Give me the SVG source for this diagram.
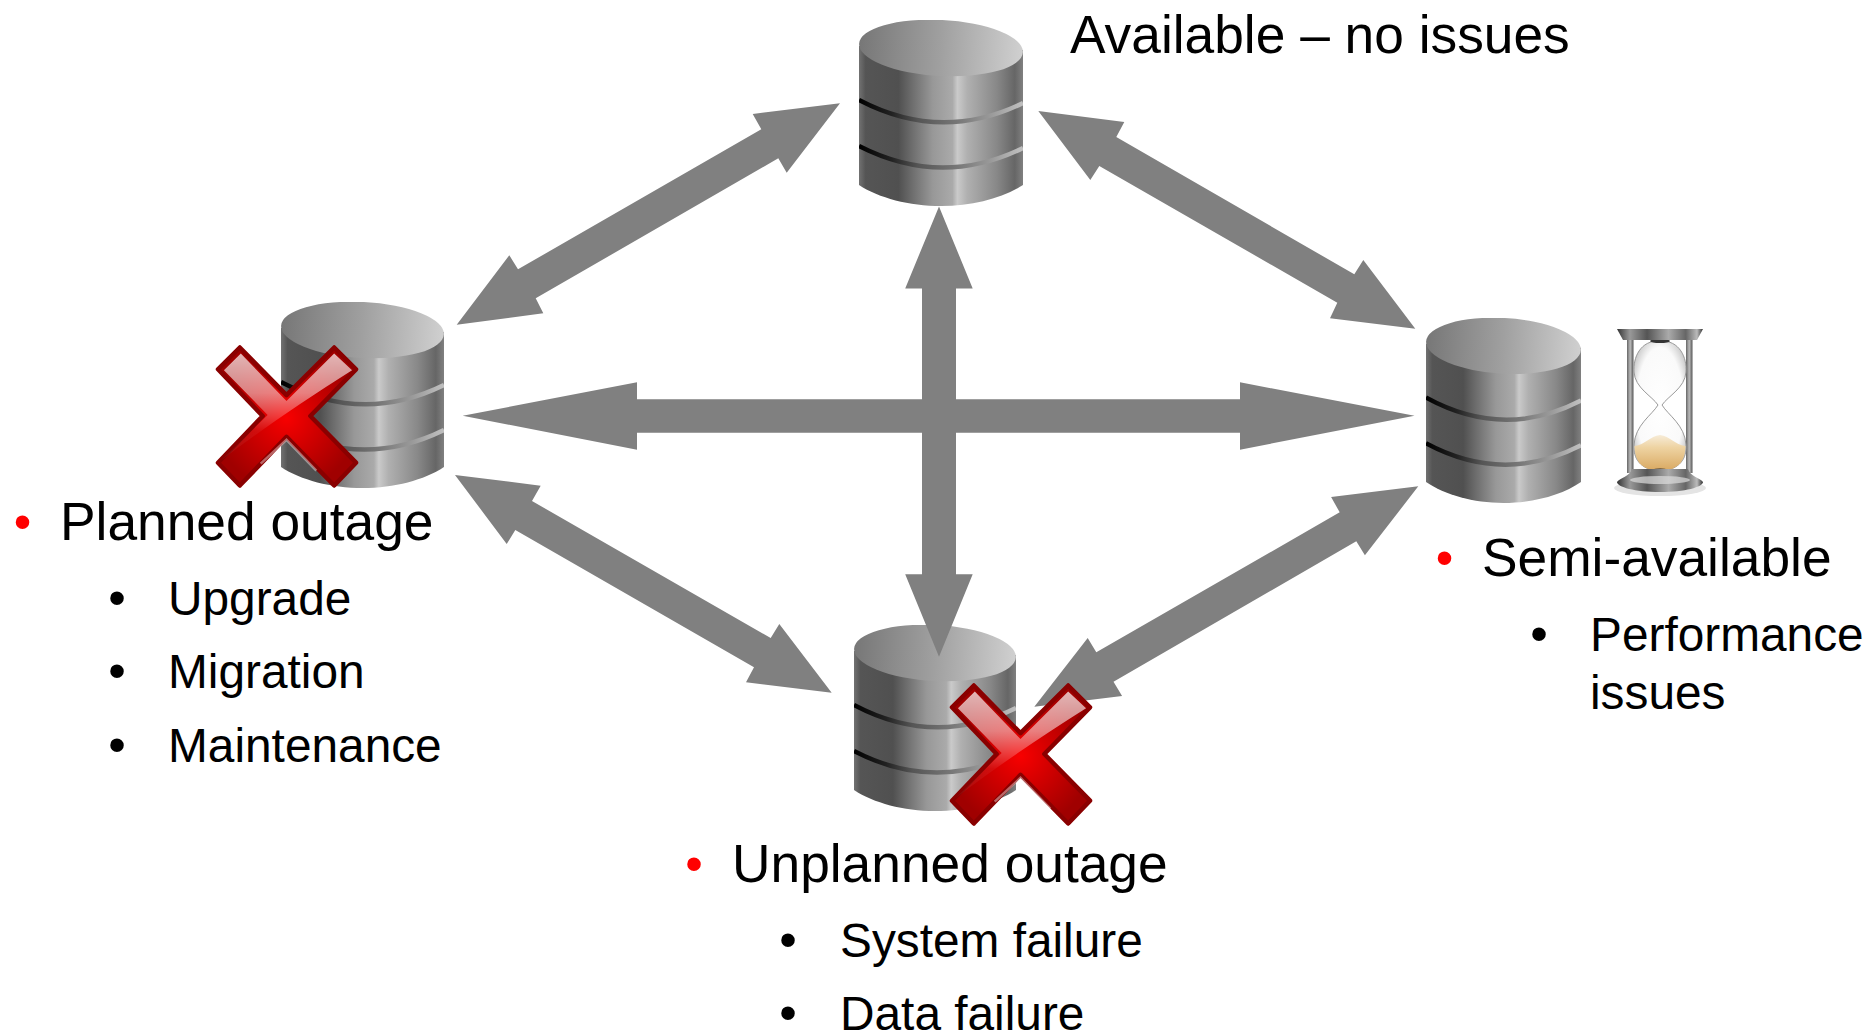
<svg xmlns="http://www.w3.org/2000/svg" width="1869" height="1035" viewBox="0 0 1869 1035">
<style>
text{font-family:"Liberation Sans",Arial,sans-serif;fill:#000}
.h{font-size:53.3px}
.s{font-size:47.8px}
.b{font-size:50px;text-anchor:middle}
.r{fill:#f00}
.arrow{fill:#808080}
</style>
<defs>
<linearGradient id="bodyG" x1="0" x2="1" y1="0" y2="0">
<stop offset="0" stop-color="#727272"/><stop offset=".04" stop-color="#555"/><stop offset=".24" stop-color="#505050"/><stop offset=".32" stop-color="#6c6c6c"/><stop offset=".45" stop-color="#989898"/><stop offset=".57" stop-color="#aaa"/><stop offset=".6" stop-color="#cacaca"/><stop offset=".66" stop-color="#b0b0b0"/><stop offset=".84" stop-color="#888"/><stop offset=".95" stop-color="#666"/><stop offset="1" stop-color="#808080"/>
</linearGradient>
<linearGradient id="topG" x1="0" x2="1" y1="0" y2="0">
<stop offset="0" stop-color="#777"/><stop offset=".5" stop-color="#a0a0a0"/><stop offset="1" stop-color="#d0d0d0"/>
</linearGradient>
<linearGradient id="bandG" x1="0" x2="1" y1="0" y2="0">
<stop offset="0" stop-color="#000"/><stop offset=".2" stop-color="#222"/><stop offset=".36" stop-color="#555"/><stop offset=".6" stop-color="#777"/><stop offset=".8" stop-color="#999"/><stop offset="1" stop-color="#c0c0c0"/>
</linearGradient>
<radialGradient id="xG" gradientUnits="userSpaceOnUse" cx="70" cy="72" r="72">
<stop offset="0" stop-color="#f80000"/><stop offset=".45" stop-color="#d00000"/><stop offset="1" stop-color="#a00000"/>
</radialGradient>
<linearGradient id="glossG" gradientUnits="userSpaceOnUse" x1="0" y1="0" x2="0" y2="85">
<stop offset="0" stop-color="#fff" stop-opacity=".75"/><stop offset=".55" stop-color="#fff" stop-opacity=".5"/><stop offset="1" stop-color="#fff" stop-opacity=".05"/>
</linearGradient>
<linearGradient id="metalG" x1="0" x2="1" y1="0" y2="0">
<stop offset="0" stop-color="#333"/><stop offset=".15" stop-color="#999"/><stop offset=".35" stop-color="#555"/><stop offset=".6" stop-color="#aaa"/><stop offset=".8" stop-color="#666"/><stop offset=".93" stop-color="#bbb"/><stop offset="1" stop-color="#333"/>
</linearGradient>
<linearGradient id="rodG" x1="0" x2="1" y1="0" y2="0">
<stop offset="0" stop-color="#666"/><stop offset=".5" stop-color="#bbb"/><stop offset="1" stop-color="#555"/>
</linearGradient>
<linearGradient id="sandG" x1="0" x2="0" y1="0" y2="1">
<stop offset="0" stop-color="#f7ecd8"/><stop offset=".35" stop-color="#eed3a2"/><stop offset="1" stop-color="#d9a860"/>
</linearGradient>
<radialGradient id="glassG" cx=".5" cy=".5" r=".6">
<stop offset="0" stop-color="#fff"/><stop offset=".75" stop-color="#fafafa"/><stop offset="1" stop-color="#c8c8c8"/>
</radialGradient>
<symbol id="db" viewBox="0 0 164 186" preserveAspectRatio="none">
<path d="M0,26 V165 C20,178 50,186 82,186 C114,186 144,178 164,165 V30 Z" fill="url(#bodyG)"/>
<path d="M0,80 Q82,123 164,83" fill="none" stroke="url(#bandG)" stroke-width="4.5"/>
<path d="M0,126 Q82,168 164,128" fill="none" stroke="url(#bandG)" stroke-width="4.5"/>
<ellipse cx="82" cy="28" rx="82" ry="28" transform="rotate(3 82 28)" fill="url(#topG)"/>
</symbol>
<symbol id="xmark" viewBox="-3 -3 147 147">
<path d="M23,1 L1,23 L46,70 L1,117 L23,140 L70,91 L118,140 L140,117 L94,70 L140,23 L118,1 L70,49 Z" fill="url(#xG)" stroke="#8a0000" stroke-width="4.5" stroke-linejoin="round"/>
<path d="M24,7 L7,24 L51,69 L5,114 Q60,72 136,24 L118,7 L70,55 Z" fill="url(#glossG)"/>
<path d="M44,118 L70,94 L100,125" fill="none" stroke="#fff" stroke-opacity=".4" stroke-width="2.5"/>
</symbol>
</defs>
<rect width="1869" height="1035" fill="#fff"/>

<g id="db-available"><use href="#db" x="859" y="20" width="164" height="186"/></g>
<g id="db-planned"><use href="#db" x="281" y="302" width="163" height="186"/></g>
<g id="db-semi"><use href="#db" x="1426" y="318" width="155" height="185"/></g>
<g id="db-unplanned"><use href="#db" x="854" y="625" width="162" height="186"/></g>

<g id="connectors" class="arrow">
<polygon points="840,103.3 752.7,114 761.3,129.3 518,269.3 509.3,255.3 456.7,324.7 543.3,313.3 535.7,298.3 778.3,158.3 786.7,172.7"/>
<polygon points="1038.3,111 1124.3,122 1116.3,137 1354.3,274.3 1363.3,260 1415.3,328.7 1330,318.3 1337.3,302.7 1099.3,166 1090.3,180"/>
<polygon points="455,475 540.7,485.7 532,501 770.7,638 779.3,624 831.7,692.7 746,682.3 754,667.3 515.3,530 506.7,544"/>
<polygon points="1418.3,486.3 1331.1,497 1339.7,512.3 1096.3,652.3 1087.7,638 1034.3,706.7 1122.1,696 1113.5,681.7 1356.3,541.3 1364.9,555.3"/>
<polygon points="462.7,415.7 637,382.3 637,399.3 1240,399.3 1240,382.3 1414.5,415.7 1240,449.7 1240,432.7 637,432.7 637,449.7"/>
<polygon points="939,206.5 972.7,288.5 956,288.5 956,574.3 972.7,574.3 939,656.7 905.2,574.3 922,574.3 922,288.5 905.2,288.5"/>
</g>

<g id="x-planned"><use href="#xmark" x="214" y="343.5" width="146" height="146"/></g>
<g id="x-unplanned"><use href="#xmark" x="948" y="681.5" width="146" height="146"/></g>

<g id="hourglass">
<ellipse cx="1660" cy="488" rx="46" ry="8" fill="#e4e4e4"/>
<rect x="1627" y="338" width="6.5" height="135" fill="url(#rodG)"/>
<rect x="1686" y="338" width="6.5" height="135" fill="url(#rodG)"/>
<path d="M1660,341 C1680,340 1687,358 1686,372 C1685,388 1668,396 1662,405 C1668,415 1685,425 1686,445 C1687,458 1680,470 1660,471 C1640,470 1633,458 1634,445 C1635,425 1652,415 1658,405 C1652,396 1635,388 1634,372 C1633,358 1640,340 1660,341Z" fill="url(#glassG)" stroke="#999" stroke-width="1"/>
<path d="M1634.5,446 C1645,445 1650,436 1660,435 C1670,436 1675,445 1685.5,446 C1685,460 1680,470 1660,471 C1640,470 1635,460 1634.5,446Z" fill="url(#sandG)"/>
<ellipse cx="1660" cy="341" rx="10" ry="2" fill="#333"/>
<ellipse cx="1660" cy="471" rx="11" ry="2.5" fill="#222"/>
<path d="M1617,329 H1703 L1697,340 H1623 Z" fill="url(#metalG)"/>
<path d="M1632,469 H1688 C1690,476 1700,478 1703,482 C1703,487 1685,492 1660,492 C1635,492 1617,487 1617,482 C1620,478 1630,476 1632,469 Z" fill="url(#metalG)"/>
<ellipse cx="1660" cy="480" rx="30" ry="4" fill="#ddd" fill-opacity=".7"/>
</g>

<g id="label-available"><text class="h" x="1070" y="52.5">Available – no issues</text></g>
<g id="label-planned">
<text class="b r" x="22.5" y="539">•</text><text class="h" x="60" y="540">Planned outage</text>
<text class="b" x="117" y="615">•</text><text class="s" x="168" y="615">Upgrade</text>
<text class="b" x="117" y="688">•</text><text class="s" x="168" y="688">Migration</text>
<text class="b" x="117" y="762">•</text><text class="s" x="168" y="762">Maintenance</text>
</g>
<g id="label-semi">
<text class="b r" x="1444.5" y="575">•</text><text class="h" x="1482" y="576">Semi-available</text>
<text class="b" x="1539" y="651">•</text><text class="s" x="1590" y="651">Performance</text>
<text class="s" x="1590" y="709">issues</text>
</g>
<g id="label-unplanned">
<text class="b r" x="694" y="881">•</text><text class="h" x="732" y="882">Unplanned outage</text>
<text class="b" x="788" y="957">•</text><text class="s" x="840" y="957">System failure</text>
<text class="b" x="788" y="1030">•</text><text class="s" x="840" y="1030">Data failure</text>
</g>
</svg>
